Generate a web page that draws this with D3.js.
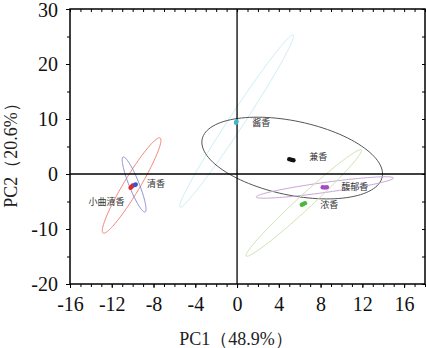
<!DOCTYPE html>
<html><head><meta charset="utf-8">
<script src="https://cdn.jsdelivr.net/npm/d3@7"></script>
<style>body{margin:0;background:#fff}svg{display:block}</style>
</head><body>
<svg id="c" width="426" height="348"></svg>
<script>
// ---- data ----
const groups = ["小曲清香","清香","酱香","兼香","馥郁香","浓香"];
const dotColors = ["#e02a2a","#3d55c8","#3fb6c9","#111111","#a64ac4","#4bb83a"];
const ellipseColors = ["#f2867a","#8b8fcc","#cdeef5","#555555","#c9a6da","#cfe3b4"];
// sample scores (PC1, PC2)
const pointsX = [
  [-10.1,-10.2,-10.0],
  [-9.8,-9.7],
  [-0.1,-0.05],
  [5.0,5.4,5.2],
  [8.2,8.6,8.4],
  [6.2,6.5,6.35]
];
const pointsY = [
  [-2.3,-2.5,-2.1],
  [-2.0,-1.9],
  [9.3,9.6],
  [2.7,2.5,2.6],
  [-2.4,-2.4,-2.45],
  [-5.6,-5.3,-5.45]
];
// confidence ellipses: centre and two conjugate semi-axis vectors (data units)
const ellCx = [-10.10,-9.86,-0.04,5.28,8.40,6.39];
const ellCy = [-2.09,-1.91,9.64,2.90,-2.45,-5.27];
const ellUx = [2.73,1.05,5.42,8.62,6.57,5.51];
const ellUy = [8.64,-5.0,15.64,-3.45,1.73,9.64];
const ellVx = [0.66,0.445,0.60,-0.74,0.066,0.455];
const ellVy = [-0.75,0.338,-0.75,-6.58,-0.9,-0.936];
// label anchors (data units)
const labelX = [-12.5,-8.62,1.45,6.91,9.98,7.97];
const labelY = [-5.1,-1.8,9.3,3.15,-2.42,-5.6];
const labelAnchor = ["middle","start","start","start","start","start"];
const xMajor = [-16,-12,-8,-4,0,4,8,12,16];
const yMajor = [-20,-10,0,10,20,30];
const xTitle = "PC1（48.9%）";
const yTitle = "PC2（20.6%）";

// ---- chart ----
const svg = d3.select("#c");
const L=70,R=425,T=9,B=284;
const x = d3.scaleLinear().domain([-16,18]).range([L,R]);
const y = d3.scaleLinear().domain([-20,30]).range([B,T]);
const xMinor = d3.range(-16,19,1);
const yMinor = d3.range(-20,31,5);
const serif = "'Liberation Serif','Times New Roman',serif";
const fmt = d => String(d); // plain hyphen minus, as in the reference

// ellipses
const ellG = svg.append("g");
groups.forEach((g,i)=>{
  const pts = d3.range(0,361,3).map(a=>{
    const t=a*Math.PI/180;
    return [ellCx[i]+Math.cos(t)*ellUx[i]+Math.sin(t)*ellVx[i],
            ellCy[i]+Math.cos(t)*ellUy[i]+Math.sin(t)*ellVy[i]];
  });
  ellG.append("path")
    .attr("d", d3.line().x(d=>x(d[0])).y(d=>y(d[1])).curve(d3.curveLinearClosed)(pts))
    .attr("fill","none").attr("stroke",ellipseColors[i]).attr("stroke-width",1);
});

// zero lines
svg.append("line").attr("x1",x(0)).attr("x2",x(0)).attr("y1",T).attr("y2",B)
  .attr("stroke","#000").attr("stroke-width",1.3);
svg.append("line").attr("x1",L).attr("x2",R).attr("y1",y(0)).attr("y2",y(0))
  .attr("stroke","#000").attr("stroke-width",1.3);

// points
groups.forEach((g,i)=>{
  svg.append("g").selectAll("circle").data(d3.range(pointsX[i].length)).join("circle")
    .attr("cx",j=>x(pointsX[i][j])).attr("cy",j=>y(pointsY[i][j]))
    .attr("r",2.2).attr("fill",dotColors[i]);
});

// labels
groups.forEach((g,i)=>{
  svg.append("text").attr("x",x(labelX[i])).attr("y",y(labelY[i]))
    .attr("dy","0.35em").attr("text-anchor",labelAnchor[i])
    .attr("font-family","'Noto Sans CJK SC',sans-serif").attr("font-size",9)
    .attr("fill","#333").text(g);
});

// axes
function styleAxis(g){
  g.selectAll("path.domain").remove();
  g.selectAll(".tick line").attr("stroke","#000").attr("stroke-width",1);
}
// bottom
svg.append("g").attr("transform",`translate(0,${B})`)
  .call(d3.axisBottom(x).tickValues(xMinor).tickSize(3).tickFormat(""))
  .call(styleAxis);
svg.append("g").attr("transform",`translate(0,${B})`)
  .call(d3.axisBottom(x).tickValues(xMajor).tickSize(4).tickPadding(14).tickFormat(fmt))
  .call(styleAxis)
  .call(g=>g.selectAll("text").attr("font-family",serif).attr("font-size",20).attr("fill","#111").attr("dy","0.45em"));
// top (mirror, inward)
svg.append("g").attr("transform",`translate(0,${T})`)
  .call(d3.axisBottom(x).tickValues(xMinor).tickSize(3).tickFormat(""))
  .call(styleAxis);
// left
svg.append("g").attr("transform",`translate(${L},0)`)
  .call(d3.axisLeft(y).tickValues(yMinor).tickSize(3).tickFormat(""))
  .call(styleAxis);
svg.append("g").attr("transform",`translate(${L},0)`)
  .call(d3.axisLeft(y).tickValues(yMajor).tickSize(4).tickPadding(8).tickFormat(fmt))
  .call(styleAxis)
  .call(g=>g.selectAll("text").attr("font-family",serif).attr("font-size",20).attr("fill","#111"))
  .call(g=>g.selectAll(".tick").filter(d=>d===30).select("text").attr("dy","0.36em"));
// right (mirror, inward)
svg.append("g").attr("transform",`translate(${R},0)`)
  .call(d3.axisLeft(y).tickValues(yMinor).tickSize(3).tickFormat(""))
  .call(styleAxis);

// frame
svg.append("rect").attr("x",L).attr("y",T).attr("width",R-L).attr("height",B-T)
  .attr("fill","none").attr("stroke","#000").attr("stroke-width",1.5);

// titles
svg.append("text").attr("x",236).attr("y",345).attr("text-anchor","middle")
  .attr("font-family",serif).attr("font-size",18).attr("fill","#222").text(xTitle);
svg.append("text").attr("transform","translate(17,151) rotate(-90)").attr("text-anchor","middle")
  .attr("font-family",serif).attr("font-size",18).attr("fill","#222").text(yTitle);
</script>
</body></html>
